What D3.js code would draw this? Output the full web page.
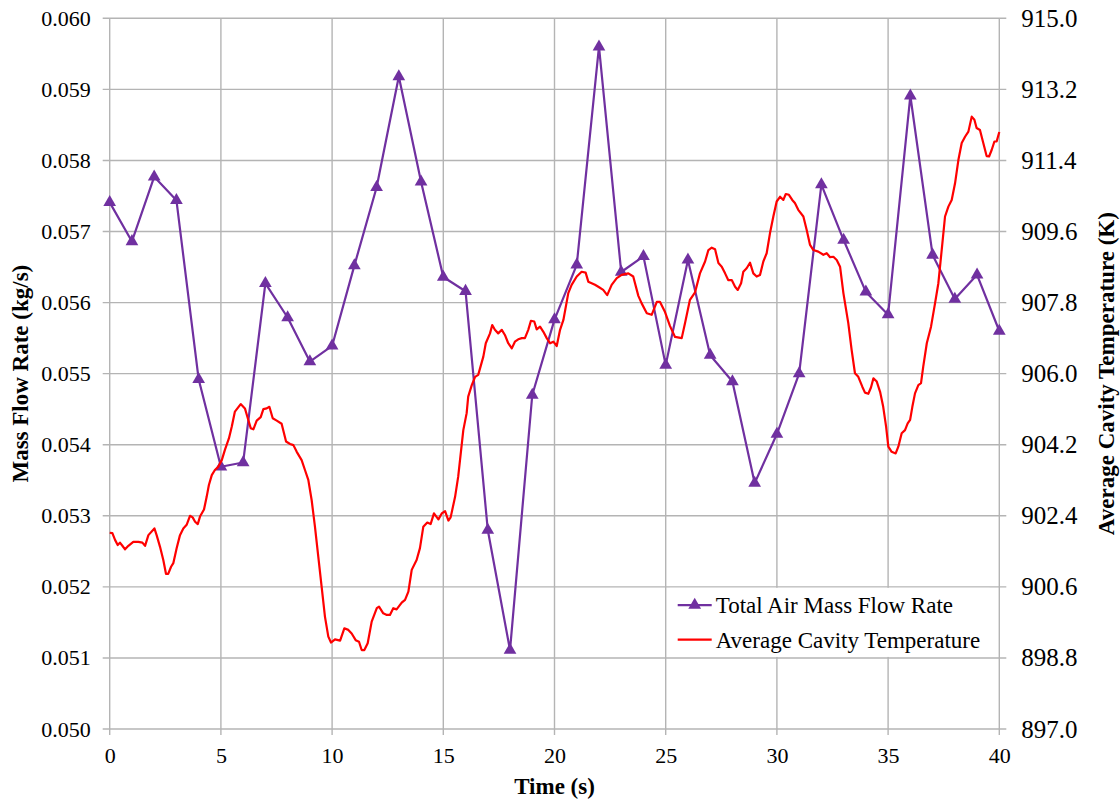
<!DOCTYPE html>
<html>
<head>
<meta charset="utf-8">
<script src="https://cdn.jsdelivr.net/npm/d3@7"></script>
<style>
  html, body { margin: 0; padding: 0; background: #fff; }
  svg { display: block; }
</style>
</head>
<body>
<svg id="chart" width="1120" height="801"></svg>
<script>
// Total air mass flow rate, sampled once per second (kg/s)
const flowTime = [0, 1, 2, 3, 4, 5, 6, 7, 8, 9, 10, 11, 12, 13, 14, 15, 16, 17, 18, 19, 20,
  21, 22, 23, 24, 25, 26, 27, 28, 29, 30, 31, 32, 33, 34, 35, 36, 37, 38, 39, 40];
const flowRate = [0.05741, 0.05686, 0.05777, 0.05744, 0.05492, 0.05369, 0.05375, 0.05627,
  0.05579, 0.05517, 0.05539, 0.05652, 0.05762, 0.05918, 0.05770, 0.05636, 0.05616, 0.05280,
  0.05111, 0.05470, 0.05576, 0.05653, 0.05960, 0.05643, 0.05665, 0.05512, 0.05660, 0.05526,
  0.05489, 0.05346, 0.05415, 0.05500, 0.05766, 0.05688, 0.05615, 0.05583, 0.05891, 0.05667,
  0.05605, 0.05639, 0.05560];

// Average cavity temperature (K)
const tempTime = [0, 0.12, 0.24, 0.36, 0.46, 0.57, 0.69, 0.84, 1.06, 1.29, 1.47, 1.59, 1.74,
  2.01, 2.11, 2.26, 2.41, 2.53, 2.63, 2.76, 2.86, 3.01, 3.16, 3.31, 3.46, 3.61, 3.73, 3.84,
  3.96, 4.06, 4.24, 4.36, 4.46, 4.59, 4.73, 4.88, 5.04, 5.18, 5.36, 5.49, 5.63, 5.89, 6.08,
  6.19, 6.34, 6.46, 6.61, 6.79, 6.91, 7.06, 7.18, 7.33, 7.51, 7.73, 7.93, 8.11, 8.26, 8.41,
  8.63, 8.78, 8.93, 9.08, 9.23, 9.38, 9.53, 9.68, 9.83, 9.95, 10.13, 10.36, 10.55, 10.73,
  10.88, 11.06, 11.21, 11.33, 11.45, 11.60, 11.78, 12.01, 12.11, 12.30, 12.46, 12.60, 12.75,
  12.90, 13.13, 13.28, 13.43, 13.58, 13.80, 13.95, 14.10, 14.28, 14.43, 14.58, 14.78, 14.93,
  15.08, 15.23, 15.33, 15.53, 15.67, 15.90, 16.05, 16.12, 16.28, 16.43, 16.57, 16.80, 16.91,
  17.10, 17.20, 17.32, 17.47, 17.63, 17.77, 17.92, 18.08, 18.22, 18.37, 18.53, 18.67, 18.82,
  18.94, 19.09, 19.20, 19.35, 19.50, 19.65, 19.80, 19.95, 20.10, 20.25, 20.40, 20.62, 20.77,
  21.00, 21.22, 21.40, 21.52, 21.82, 21.97, 22.19, 22.37, 22.57, 22.80, 23.02, 23.32, 23.54,
  23.77, 23.92, 24.15, 24.37, 24.60, 24.74, 24.97, 25.19, 25.42, 25.72, 25.87, 26.09, 26.32,
  26.54, 26.77, 26.92, 27.07, 27.22, 27.37, 27.52, 27.67, 27.81, 27.97, 28.12, 28.24, 28.39,
  28.49, 28.64, 28.79, 28.94, 29.09, 29.24, 29.39, 29.54, 29.69, 29.84, 29.99, 30.14, 30.29,
  30.40, 30.54, 30.69, 30.81, 30.96, 31.19, 31.34, 31.49, 31.64, 31.86, 32.09, 32.24, 32.39,
  32.54, 32.69, 32.84, 32.99, 33.21, 33.36, 33.51, 33.66, 33.84, 33.96, 34.11, 34.23, 34.34,
  34.49, 34.64, 34.78, 34.91, 35.01, 35.16, 35.34, 35.46, 35.61, 35.76, 35.88, 35.99, 36.09,
  36.21, 36.36, 36.48, 36.58, 36.74, 36.93, 37.11, 37.26, 37.44, 37.56, 37.71, 37.86, 38.01,
  38.16, 38.31, 38.46, 38.61, 38.76, 38.88, 38.98, 39.13, 39.28, 39.43, 39.54, 39.66, 39.78,
  39.88, 40.00];
const tempValue = [901.97, 901.96, 901.79, 901.66, 901.72, 901.64, 901.55, 901.64, 901.74,
  901.74, 901.72, 901.64, 901.91, 902.08, 901.91, 901.62, 901.28, 900.93, 900.93, 901.11,
  901.20, 901.58, 901.91, 902.08, 902.17, 902.40, 902.36, 902.25, 902.19, 902.38, 902.56,
  902.88, 903.18, 903.43, 903.56, 903.64, 903.81, 904.07, 904.36, 904.66, 905.04, 905.23,
  905.12, 904.91, 904.62, 904.59, 904.81, 904.90, 905.10, 905.12, 905.16, 904.87, 904.81,
  904.73, 904.28, 904.22, 904.19, 904.02, 903.81, 903.56, 903.31, 902.80, 902.12, 901.36,
  900.60, 899.84, 899.34, 899.19, 899.27, 899.24, 899.55, 899.51, 899.42, 899.25, 899.21,
  899.00, 899.00, 899.17, 899.72, 900.06, 900.10, 899.93, 899.89, 899.89, 900.06, 900.03,
  900.20, 900.27, 900.48, 901.03, 901.28, 901.58, 902.12, 902.23, 902.19, 902.46, 902.31,
  902.46, 902.52, 902.28, 902.36, 902.88, 903.39, 904.57, 905.00, 905.42, 905.71, 905.92,
  905.97, 906.43, 906.77, 907.02, 907.23, 907.11, 907.02, 907.11, 906.98, 906.77, 906.64,
  906.81, 906.87, 906.90, 906.90, 907.11, 907.34, 907.32, 907.12, 907.19, 907.06, 906.90,
  906.77, 906.81, 906.70, 907.11, 907.36, 908.04, 908.25, 908.46, 908.58, 908.56, 908.33,
  908.25, 908.20, 908.12, 907.99, 908.25, 908.42, 908.50, 908.54, 908.46, 907.97, 907.78,
  907.53, 907.49, 907.82, 907.82, 907.56, 907.21, 906.93, 906.90, 907.28, 907.87, 908.06,
  908.54, 908.84, 909.13, 909.19, 909.15, 908.80, 908.71, 908.54, 908.37, 908.37, 908.20,
  908.12, 908.29, 908.58, 908.67, 908.81, 908.54, 908.46, 908.50, 908.84, 909.05, 909.56,
  909.98, 910.36, 910.48, 910.40, 910.55, 910.53, 910.40, 910.32, 910.15, 909.98, 909.64,
  909.26, 909.13, 909.09, 909.01, 909.05, 908.95, 908.96, 908.88, 908.71, 908.04, 907.28,
  906.60, 906.01, 905.92, 905.67, 905.52, 905.49, 905.65, 905.88, 905.80, 905.54, 905.16,
  904.66, 904.15, 904.02, 903.98, 904.15, 904.49, 904.57, 904.74, 904.83, 905.16, 905.50,
  905.71, 905.76, 906.18, 906.77, 907.19, 907.78, 908.29, 909.30, 909.98, 910.23, 910.40,
  910.82, 911.41, 911.84, 912.00, 912.13, 912.51, 912.43, 912.22, 912.17, 911.84, 911.51,
  911.50, 911.67, 911.88, 911.88, 912.12];

// Axis ticks
const timeTicks = [0, 5, 10, 15, 20, 25, 30, 35, 40];
const flowTicks = [0.050, 0.051, 0.052, 0.053, 0.054, 0.055, 0.056, 0.057, 0.058, 0.059, 0.060];
const tempTicks = [897.0, 898.8, 900.6, 902.4, 904.2, 906.0, 907.8, 909.6, 911.4, 913.2, 915.0];

const seriesNames = ["Total Air Mass Flow Rate", "Average Cavity Temperature"];
const seriesColors = ["#7030a0", "#ff0000"];

const W = 1120, H = 801;
const margin = { left: 109.7, right: 120.7, top: 18.3, bottom: 72 };
const plotW = W - margin.left - margin.right;
const plotH = H - margin.top - margin.bottom;

const svg = d3.select("#chart");
const g = svg.append("g").attr("transform", `translate(${margin.left},${margin.top})`);

const x = d3.scaleLinear().domain([0, 40]).range([0, plotW]);
const yFlow = d3.scaleLinear().domain([0.050, 0.060]).range([plotH, 0]);
const yTemp = d3.scaleLinear().domain([897.0, 915.0]).range([plotH, 0]);

const gridColor = "#b4b4b4";

// Horizontal gridlines (with the left and right outward ticks)
g.append("g").selectAll("line").data(flowTicks).join("line")
  .attr("x1", -7).attr("x2", plotW + 7)
  .attr("y1", d => yFlow(d)).attr("y2", d => yFlow(d))
  .attr("stroke", gridColor).attr("stroke-width", 1.4);

// Vertical gridlines (with the bottom ticks)
g.append("g").selectAll("line").data(timeTicks).join("line")
  .attr("x1", d => x(d)).attr("x2", d => x(d))
  .attr("y1", 0).attr("y2", plotH + 6)
  .attr("stroke", gridColor).attr("stroke-width", 1.4);

// Text styling helper
function serif(sel, size, weight) {
  return sel.attr("font-family", "Liberation Serif").attr("font-size", size)
    .style("font-family", '"Liberation Serif"').style("font-size", size + "px")
    .attr("font-weight", weight || null);
}

function styleAxis(sel, size) {
  sel.attr("font-family", null).attr("font-size", null);
  sel.select(".domain").remove();
  serif(sel.selectAll("text"), size).attr("fill", "#000");
}

// Left axis labels
const leftAxis = d3.axisLeft(yFlow).tickValues(flowTicks).tickFormat(d3.format(".3f"))
  .tickSize(0).tickPadding(19);
styleAxis(g.append("g").call(leftAxis), 22);

// Right axis labels
const rightAxis = d3.axisRight(yTemp).tickValues(tempTicks).tickFormat(d3.format(".1f"))
  .tickSize(0).tickPadding(22);
styleAxis(g.append("g").attr("transform", `translate(${plotW},0)`).call(rightAxis), 25);

// Bottom axis labels
const bottomAxis = d3.axisBottom(x).tickValues(timeTicks).tickFormat(d3.format("d"))
  .tickSize(0).tickPadding(18);
styleAxis(g.append("g").attr("transform", `translate(0,${plotH})`).call(bottomAxis), 22);

// Axis titles
serif(svg.append("text"), 23, "bold")
  .attr("transform", `translate(${margin.left + plotW / 2},${H - 7})`)
  .attr("text-anchor", "middle").text("Time (s)");
serif(svg.append("text"), 23, "bold")
  .attr("transform", `translate(28,${margin.top + plotH / 2}) rotate(-90)`)
  .attr("text-anchor", "middle").text("Mass Flow Rate (kg/s)");
serif(svg.append("text"), 23, "bold")
  .attr("transform", `translate(1114,${margin.top + plotH / 2}) rotate(-90)`)
  .attr("text-anchor", "middle").text("Average Cavity Temperature (K)");

// Mass flow rate series
const flowData = flowTime.map((t, i) => ({ t, v: flowRate[i] }));
g.append("path").datum(flowData)
  .attr("fill", "none").attr("stroke", seriesColors[0]).attr("stroke-width", 2.2)
  .attr("stroke-linejoin", "round")
  .attr("d", d3.line().x(d => x(d.t)).y(d => yFlow(d.v)));
const tri = d3.symbol(d3.symbolTriangle, 70);
g.append("g").selectAll("path").data(flowData).join("path")
  .attr("transform", d => `translate(${x(d.t)},${yFlow(d.v)})`)
  .attr("d", tri).attr("fill", seriesColors[0]);

// Temperature series
const tempData = tempTime.map((t, i) => ({ t, v: tempValue[i] }));
g.append("path").datum(tempData)
  .attr("fill", "none").attr("stroke", seriesColors[1]).attr("stroke-width", 2.2)
  .attr("stroke-linejoin", "round")
  .attr("d", d3.line().x(d => x(d.t)).y(d => yTemp(d.v)));

// Legend, sitting between two horizontal gridlines
const legTop = yFlow(0.052) + 1, legBottom = yFlow(0.051) - 1;
const legLeft = 560, legRight = 880;
g.append("rect").attr("x", legLeft).attr("y", legTop)
  .attr("width", legRight - legLeft).attr("height", legBottom - legTop).attr("fill", "#fff");
const legRows = [legTop + (legBottom - legTop) * 0.25, legTop + (legBottom - legTop) * 0.75];
seriesNames.forEach((name, i) => {
  const ly = legRows[i];
  g.append("line").attr("x1", legLeft + 8).attr("x2", legLeft + 42)
    .attr("y1", ly).attr("y2", ly)
    .attr("stroke", seriesColors[i]).attr("stroke-width", 2.2);
  if (i === 0) {
    g.append("path").attr("transform", `translate(${legLeft + 25},${ly})`)
      .attr("d", tri).attr("fill", seriesColors[0]);
  }
  serif(g.append("text"), 23).attr("x", legLeft + 46).attr("y", ly).attr("dy", "0.35em")
    .text(name);
});
</script>
</body>
</html>
